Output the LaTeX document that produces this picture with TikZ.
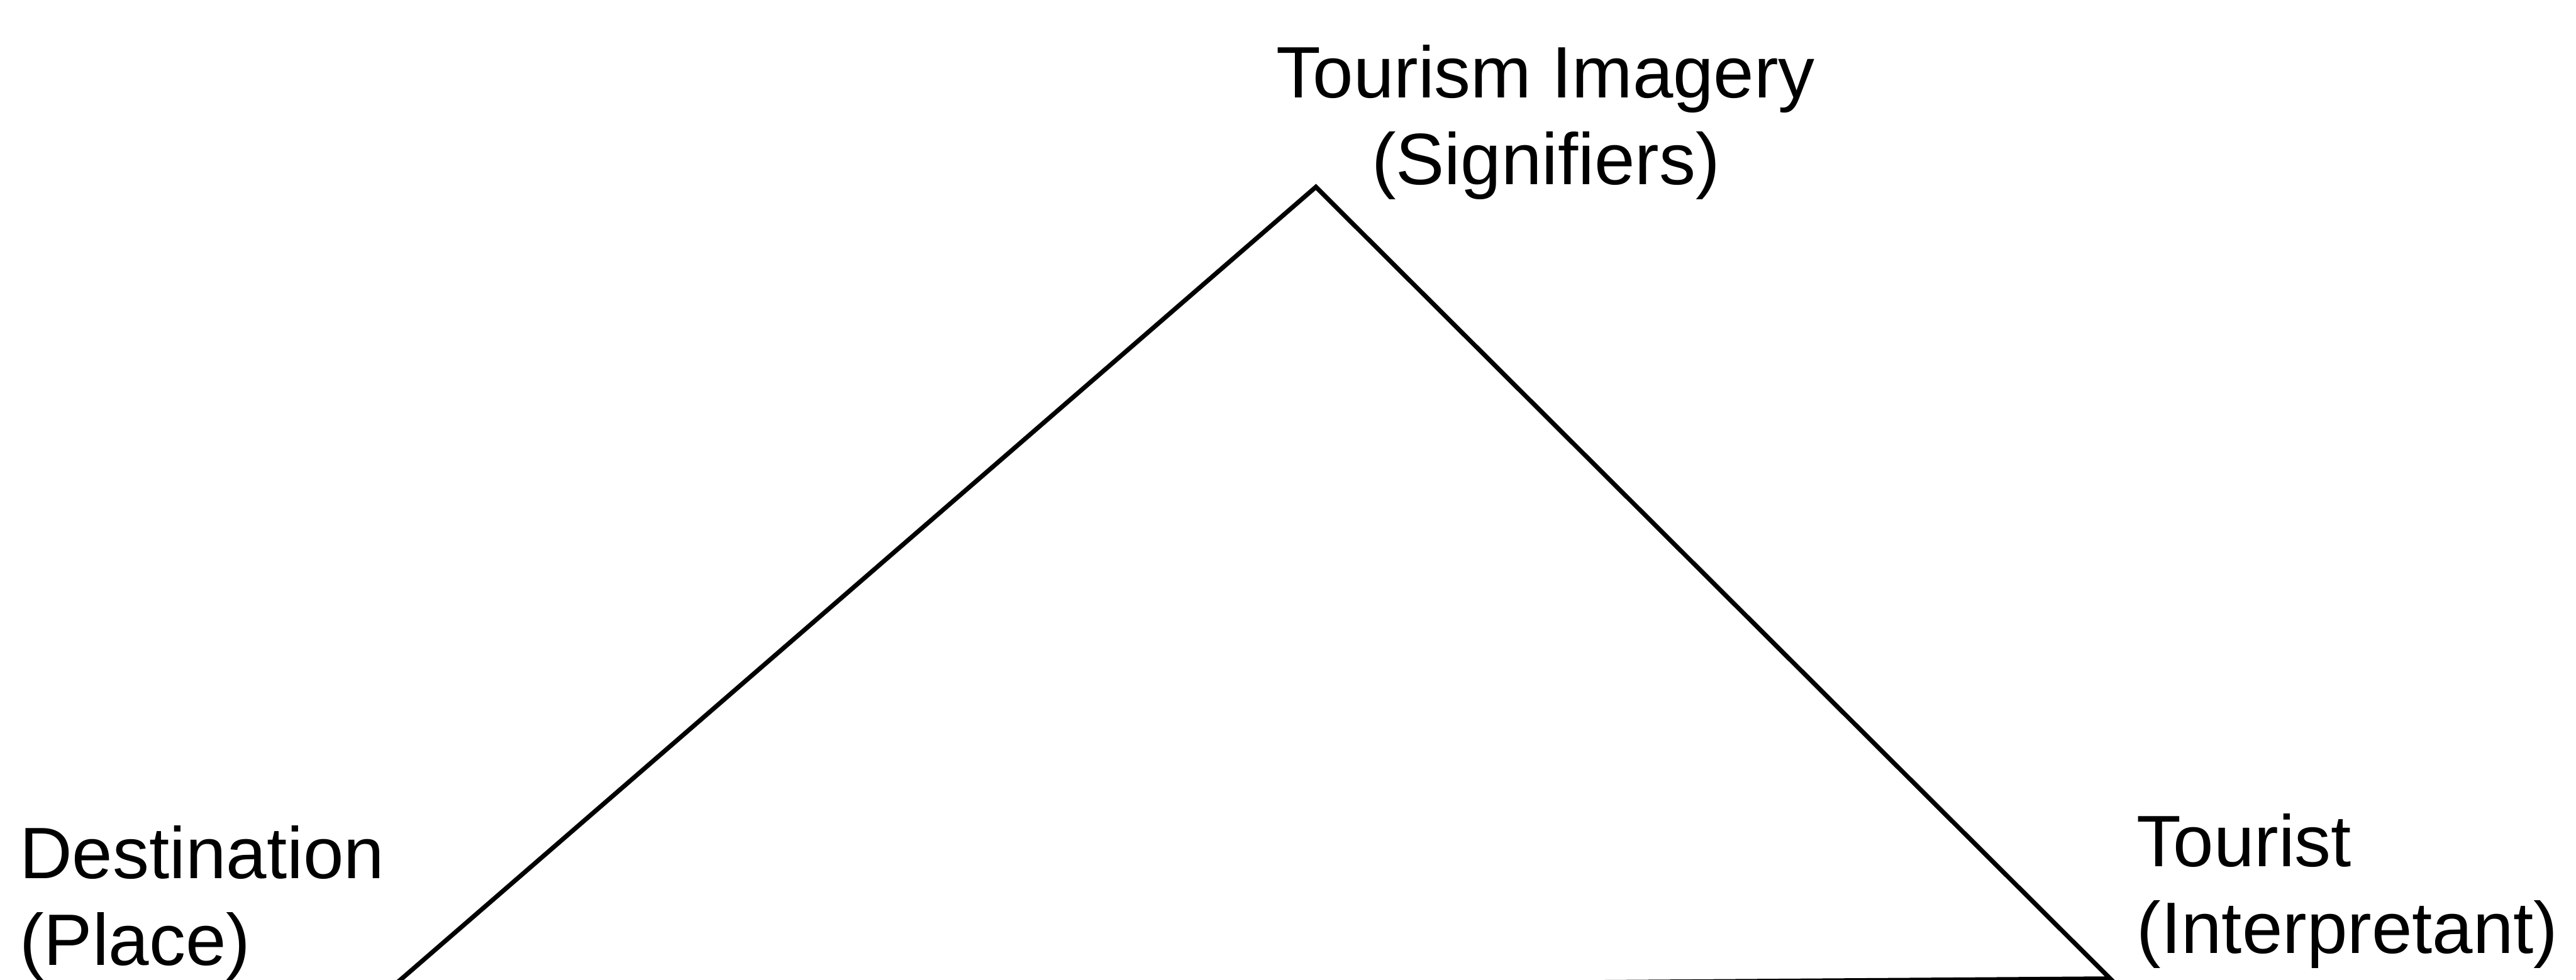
\documentclass[tikz,border=0pt]{standalone}
\usepackage{fontspec}
\setmainfont{Liberation Sans}
\usetikzlibrary{positioning}

\begin{document}
\begin{tikzpicture}[
  lbl/.style={inner sep=0pt, font=\fontsize{45}{53.5}\selectfont},
  side/.style={line width=2.8pt, line join=miter}
]
\useasboundingbox (0,0) rectangle (55.91,-21.28);
\clip (0,0) rectangle (55.91,-21.28);
% corners of the triangle
\coordinate (signc)    at (28.56,-4.06);
\coordinate (placec)   at (8.41,-21.52);
\coordinate (touristc) at (45.80,-21.25);

\node[lbl, anchor=north, align=center]    (imagery) at (33.55,-0.97)  {Tourism Imagery\\(Signifiers)};
\node[lbl, anchor=north west, align=left] (dest)    at (0.42,-17.92)  {Destination\\(Place)};
\node[lbl, anchor=north west, align=left] (tourist) at (46.37,-17.66) {Tourist\\(Interpretant)};

\draw[side] (signc) -- (touristc) -- (placec) -- cycle;
\end{tikzpicture}
\end{document}
